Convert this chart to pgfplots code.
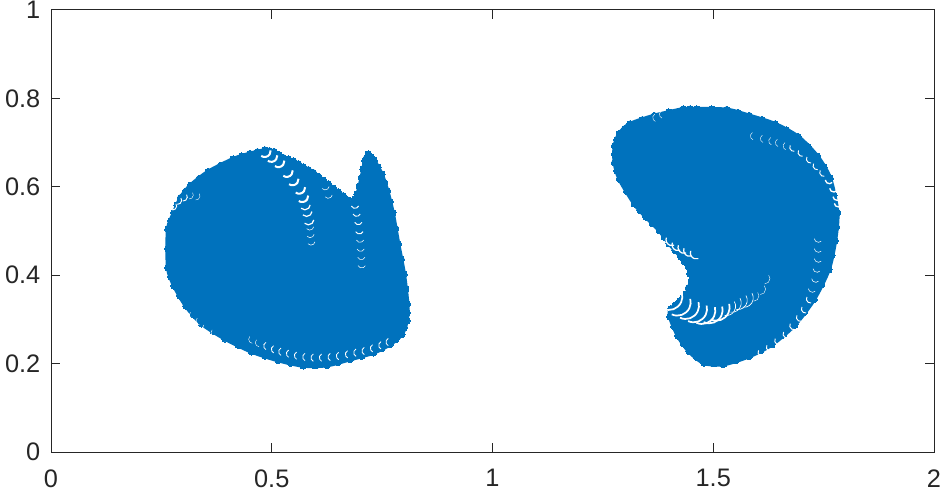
\documentclass[border=0pt]{standalone}
\usepackage{fontspec}
\setmainfont{Liberation Sans}
\usepackage{pgfplots}
\pgfplotsset{compat=1.18}
\definecolor{ink}{RGB}{38,38,38}
\definecolor{blob}{RGB}{0,114,189}
% white edge of one scatter circle, centred on the point
\pgfdeclareplotmark{cres}{%
  \pgfpathmoveto{\pgfpointpolar{-65}{\pgfplotmarksize}}%
  \pgfpatharc{-65}{65}{\pgfplotmarksize}%
  \pgfusepathqstroke}
\pgfplotsset{
  cres/.style n args={3}{only marks, mark=cres, mark size=#1,
    mark options={draw=white, line width=#2, rotate=#3, solid}},
  rim/.style={draw=blob, fill=blob, line width=3.1pt, line join=round,
    smooth, tension=0.45, mark=*, mark size=2.5pt, mark options={draw=blob, fill=blob, line width=0pt}},
  rimdots/.style={only marks, mark=*, mark size=2.5pt, mark options={draw=blob, fill=blob, line width=0pt}},
}
\begin{document}
\begin{tikzpicture}
\path[use as bounding box] (-38.25pt,-31pt) rectangle (669.75pt,339pt);
\begin{axis}[
    at={(0pt,0pt)}, anchor=south west,
    scale only axis, width=662.25pt, height=331.5pt,
    xmin=0, xmax=2, ymin=0, ymax=1,
    xtick={0,0.5,1,1.5,2}, xticklabels={0,0.5,1,1.5,2},
    ytick={0,0.2,0.4,0.6,0.8,1}, yticklabels={0,0.2,0.4,0.6,0.8,1},
    tick align=inside, major tick length=6.5pt,
    axis line style={ink, line width=0.75pt},
    tick style={ink, line width=0.75pt},
    tick label style={font=\fontsize{19}{20}\selectfont, text=ink},
    xticklabel shift=9.5pt, yticklabel shift=4.5pt,
    clip=false,
]
% left blob
\addplot[rim] coordinates {
(.4847,.6833) (.5051,.6795) (.5262,.6659) (.5489,.6584) (.5715,.6448) (.5942,.6320)
(.6168,.6146) (.6395,.5965) (.6621,.5792) (.6818,.5611) (.6938,.5830) (.7036,.6207)
(.7112,.6584) (.7188,.6735) (.7316,.6599) (.7490,.6282) (.7618,.5905) (.7739,.5415)
(.7867,.4698) (.7995,.4020) (.8071,.3341) (.8056,.2964) (.7943,.2662) (.7678,.2436)
(.7301,.2247) (.6772,.2097) (.6244,.1961) (.5715,.1953) (.5149,.2074) (.4545,.2270)
(.3941,.2564) (.3413,.2903) (.3058,.3303) (.2793,.3756) (.2650,.4170) (.2650,.5038)
(.2786,.5415) (.2937,.5754) (.3163,.6033) (.3564,.6342) (.4130,.6629) (.4507,.6750)
} --cycle;
\addplot[rimdots] coordinates {
(.4949,.6814) (.5157,.6727) (.5376,.6622) (.5602,.6516) (.5829,.6384) (.6055,.6233)
(.6282,.6056) (.6508,.5879) (.6720,.5702) (.6878,.5720) (.6987,.6018) (.7074,.6396)
(.7150,.6660) (.7252,.6667) (.7403,.6440) (.7554,.6094) (.7679,.5660) (.7803,.5056)
(.7931,.4359) (.8033,.3680) (.8064,.3152) (.8000,.2813) (.7811,.2549) (.7490,.2342)
(.7037,.2172) (.6508,.2029) (.5980,.1957) (.5432,.2013) (.4847,.2172) (.4243,.2417)
(.3677,.2733) (.3235,.3103) (.2925,.3530) (.2721,.3963) (.2650,.4604) (.2718,.5227)
(.2861,.5585) (.3050,.5893) (.3363,.6187) (.3847,.6485) (.4318,.6690) (.4677,.6791)
};
% right blob
\addplot[rim] coordinates {
(1.4625,.7760) (1.5304,.7745) (1.5817,.7609) (1.6399,.7421) (1.6920,.7134) (1.7358,.6689)
(1.7645,.6192) (1.7811,.5415) (1.7758,.4774) (1.7614,.4125) (1.7282,.3454) (1.6844,.2874)
(1.6323,.2429) (1.5810,.2165) (1.5229,.1984) (1.4791,.2014) (1.4458,.2271) (1.4202,.2625)
(1.4021,.3055) (1.4036,.3228) (1.4247,.3417) (1.4383,.3567) (1.4504,.3869) (1.4443,.4186)
(1.4270,.4412) (1.4005,.4714) (1.3779,.5015) (1.3477,.5317) (1.3213,.5618) (1.2880,.6169)
(1.2767,.6546) (1.2767,.6923) (1.2873,.7202) (1.3115,.7421) (1.3666,.7609) (1.4323,.7760)
} --cycle;
\addplot[rimdots] coordinates {
(1.4965,.7753) (1.5561,.7677) (1.6108,.7515) (1.6660,.7278) (1.7139,.6912) (1.7502,.6441)
(1.7728,.5804) (1.7785,.5095) (1.7686,.4450) (1.7448,.3790) (1.7063,.3164) (1.6584,.2652)
(1.6067,.2297) (1.5520,.2075) (1.5010,.1999) (1.4625,.2143) (1.4330,.2448) (1.4112,.2840)
(1.4142,.3323) (1.4315,.3492) (1.4444,.3718) (1.4474,.4028) (1.4357,.4299) (1.4138,.4563)
(1.3892,.4865) (1.3628,.5166) (1.3345,.5468) (1.3047,.5894) (1.2824,.6358) (1.2767,.6735)
(1.2820,.7063) (1.2994,.7312) (1.3391,.7515) (1.3995,.7685) (1.4474,.7760)
};
% left blob, gaps between circles
\addplot[cres={4.5pt}{1.5pt}{-60}] coordinates {
(.484,.681) (.499,.670) (.515,.658) (.534,.636) (.547,.617) (.562,.598) (.569,.579)};
\addplot[cres={4pt}{0.9pt}{-70}] coordinates {
(.575,.560) (.579,.545) (.583,.526)};
\addplot[cres={3pt}{0.4pt}{-75}] coordinates {
(.586,.511) (.587,.494) (.589,.477) (.621,.602) (.628,.583)};
\addplot[cres={3pt}{0.7pt}{-90}] coordinates {
(.6885,.5603) (.6923,.5422) (.6961,.5234) (.6983,.5023)};
\addplot[cres={3pt}{0.4pt}{-90}] coordinates {
(.6999,.4834) (.7014,.4630) (.7029,.4442) (.7036,.4254)};
\addplot[cres={3pt}{0.7pt}{-30}] coordinates {
(.2755,.5565) (.2869,.5694) (.2997,.5769)};
\addplot[cres={3pt}{0.3pt}{-30}] coordinates {
(.3133,.5814) (.3284,.5792)};
\addplot[cres={3pt}{0.6pt}{180}] coordinates {
(.4907,.2399) (.5081,.2323) (.5247,.2270) (.5421,.2225) (.5602,.2180) (.5791,.2150)
(.5979,.2135) (.6168,.2135) (.6364,.2150) (.6553,.2172) (.6757,.2210) (.6946,.2248)
(.7134,.2286) (.7323,.2346) (.7512,.2414) (.7678,.2489)};
\addplot[cres={3pt}{0.3pt}{200}] coordinates {
(.4567,.2550) (.4718,.2474) (.3224,.3100) (.3375,.2964) (.3526,.2813) (.3714,.2700)};
% right blob, gaps between circles
\addplot[cres={10pt}{1.3pt}{-50}] coordinates {
(1.3998,.3515) (1.4187,.3387) (1.4375,.3311) (1.4557,.3236) (1.4745,.3198) (1.4911,.3213) (1.5070,.3273)};
\addplot[cres={7pt}{0.5pt}{-35}] coordinates {
(1.5295,.3297) (1.5423,.3372) (1.5559,.3433) (1.5695,.3485)};
\addplot[cres={4pt}{0.3pt}{-25}] coordinates {
(1.5914,.3532) (1.6065,.3683) (1.6163,.3924)};
\addplot[cres={4.5pt}{0.9pt}{225}] coordinates {
(1.4066,.4804) (1.4202,.4691) (1.4338,.4631) (1.4466,.4563) (1.4617,.4503)};
\addplot[cres={3pt}{0.3pt}{185}] coordinates {
(1.5931,.7149) (1.6157,.7089) (1.6346,.7036) (1.6497,.6998) (1.6671,.6923) (1.3719,.7564) (1.3870,.7639)};
\addplot[cres={3pt}{0.7pt}{215}] coordinates {
(1.6822,.6893) (1.7010,.6780) (1.7199,.6629) (1.7350,.6478) (1.7501,.6327)};
\addplot[cres={3pt}{1pt}{250}] coordinates {
(1.7629,.6161) (1.7728,.5973) (1.7803,.5784) (1.7833,.5634)};
\addplot[cres={3pt}{0.4pt}{-110}] coordinates {
(1.7380,.4834) (1.7380,.4608) (1.7380,.4382) (1.7350,.4156) (1.7320,.3929) (1.7244,.3703)};
\addplot[cres={3pt}{0.7pt}{215}] coordinates {
(1.7199,.3462) (1.7086,.3236) (1.6973,.3047) (1.6822,.2859) (1.6671,.2670) (1.6482,.2519) (1.6293,.2369) (1.6104,.2256)};
\end{axis}
\end{tikzpicture}
\end{document}
